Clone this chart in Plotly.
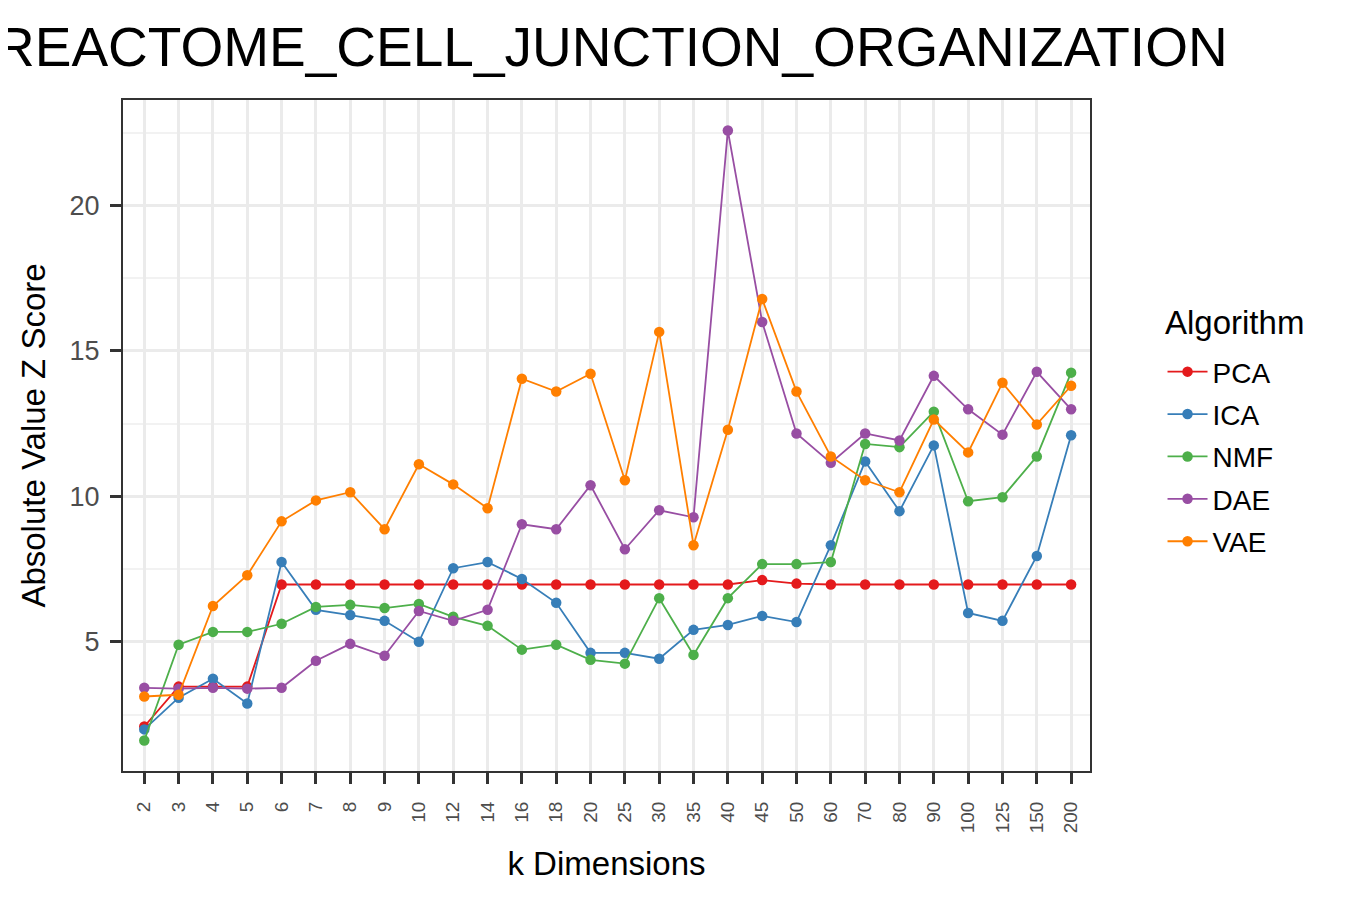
import plotly.graph_objects as go

# k dimensions (categorical axis)
k_dims = ["2", "3", "4", "5", "6", "7", "8", "9", "10", "12", "14", "16", "18", "20",
          "25", "30", "35", "40", "45", "50", "60", "70", "80", "90", "100", "125", "150", "200"]

# absolute value z scores
pca = [2.09, 3.46, 3.46, 3.46, 6.97, 6.97, 6.97, 6.97, 6.97, 6.97, 6.97, 6.97, 6.97, 6.97,
       6.97, 6.97, 6.97, 6.97, 7.12, 7.0, 6.97, 6.97, 6.97, 6.97, 6.97, 6.97, 6.97, 6.97]
ica = [1.99, 3.08, 3.73, 2.88, 7.74, 6.1, 5.92, 5.72, 5.0, 7.53, 7.74, 7.16, 6.34, 4.62,
       4.62, 4.42, 5.41, 5.58, 5.89, 5.68, 8.32, 11.2, 9.49, 11.75, 5.99, 5.72, 7.95, 12.1]
nmf = [1.61, 4.9, 5.34, 5.34, 5.62, 6.2, 6.27, 6.16, 6.3, 5.86, 5.55, 4.73, 4.9, 4.38,
       4.25, 6.5, 4.55, 6.5, 7.67, 7.67, 7.74, 11.8, 11.69, 12.91, 9.83, 9.97, 11.37, 14.25]
dae = [3.42, 3.39, 3.42, 3.39, 3.42, 4.35, 4.93, 4.52, 6.06, 5.72, 6.1, 9.04, 8.87, 10.38,
       8.18, 9.52, 9.28, 22.57, 15.99, 12.16, 11.15, 12.16, 11.92, 14.14, 12.99, 12.12, 14.28, 12.99]
vae = [3.12, 3.18, 6.23, 7.29, 9.14, 9.86, 10.14, 8.87, 11.1, 10.41, 9.59, 14.04, 13.6, 14.21,
       10.55, 15.65, 8.32, 12.29, 16.78, 13.6, 11.37, 10.55, 10.14, 12.64, 11.51, 13.9, 12.47, 13.8]

algorithms = ["PCA", "ICA", "NMF", "DAE", "VAE"]
series = [pca, ica, nmf, dae, vae]
colors = ["#E41A1C", "#377EB8", "#4DAF4A", "#984EA3", "#FF7F00"]

fig = go.Figure()
for name, vals, col in zip(algorithms, series, colors):
    fig.add_trace(go.Scatter(
        x=k_dims, y=vals, name=name, legendgroup=name,
        mode="lines+markers",
        line=dict(color=col, width=1.8),
        marker=dict(color=col, size=10.5),
    ))

# the page adds ~8px body margin, margins are set with that in mind
fig.update_layout(
    width=1350, height=900,
    paper_bgcolor="white", plot_bgcolor="white",
    margin=dict(l=115, r=268, t=92, b=137),
    font=dict(family="Liberation Sans, Arial, sans-serif", color="black"),
    title=dict(text="REACTOME_CELL_JUNCTION_ORGANIZATION", x=0.505, xref="paper",
               xanchor="center", y=0.957, yanchor="middle",
               font=dict(size=55, color="black")),
    legend=dict(x=1.075, y=0.632, xanchor="left", yanchor="top",
                font=dict(size=28), tracegroupgap=3, itemwidth=40,
                bgcolor="rgba(0,0,0,0)"),
    showlegend=True,
)

# legend heading, placed a bit above the keys like ggplot does
fig.add_annotation(text="Algorithm", xref="paper", yref="paper",
                   x=1.0755, y=0.668, xanchor="left", yanchor="middle",
                   showarrow=False, font=dict(size=33, color="black"))

fig.update_xaxes(
    type="category", categoryorder="array", categoryarray=k_dims,
    range=[-0.62, len(k_dims) - 0.45],
    title=dict(text="k Dimensions", font=dict(size=33), standoff=20),
    tickangle=-90, tickfont=dict(size=19, color="#4d4d4d"), ticklabelstandoff=10,
    ticks="outside", ticklen=11, tickwidth=3, tickcolor="#333333",
    showgrid=True, gridcolor="#EBEBEB", gridwidth=3,
    showline=True, linecolor="#333333", linewidth=2, mirror=True,
    zeroline=False,
)

fig.update_yaxes(
    range=[0.56, 23.62],
    tickvals=[5, 10, 15, 20],
    title=dict(text="Absolute Value Z Score", font=dict(size=33), standoff=14),
    tickfont=dict(size=27, color="#4d4d4d"), ticklabelstandoff=5,
    ticks="outside", ticklen=11, tickwidth=3, tickcolor="#333333",
    showgrid=True, gridcolor="#EBEBEB", gridwidth=3,
    minor=dict(tickvals=[2.5, 7.5, 12.5, 17.5, 22.5], showgrid=True,
               gridcolor="#F2F2F2", gridwidth=2, ticks=""),
    showline=True, linecolor="#333333", linewidth=2, mirror=True,
    zeroline=False,
)

fig.write_html("out.html")
